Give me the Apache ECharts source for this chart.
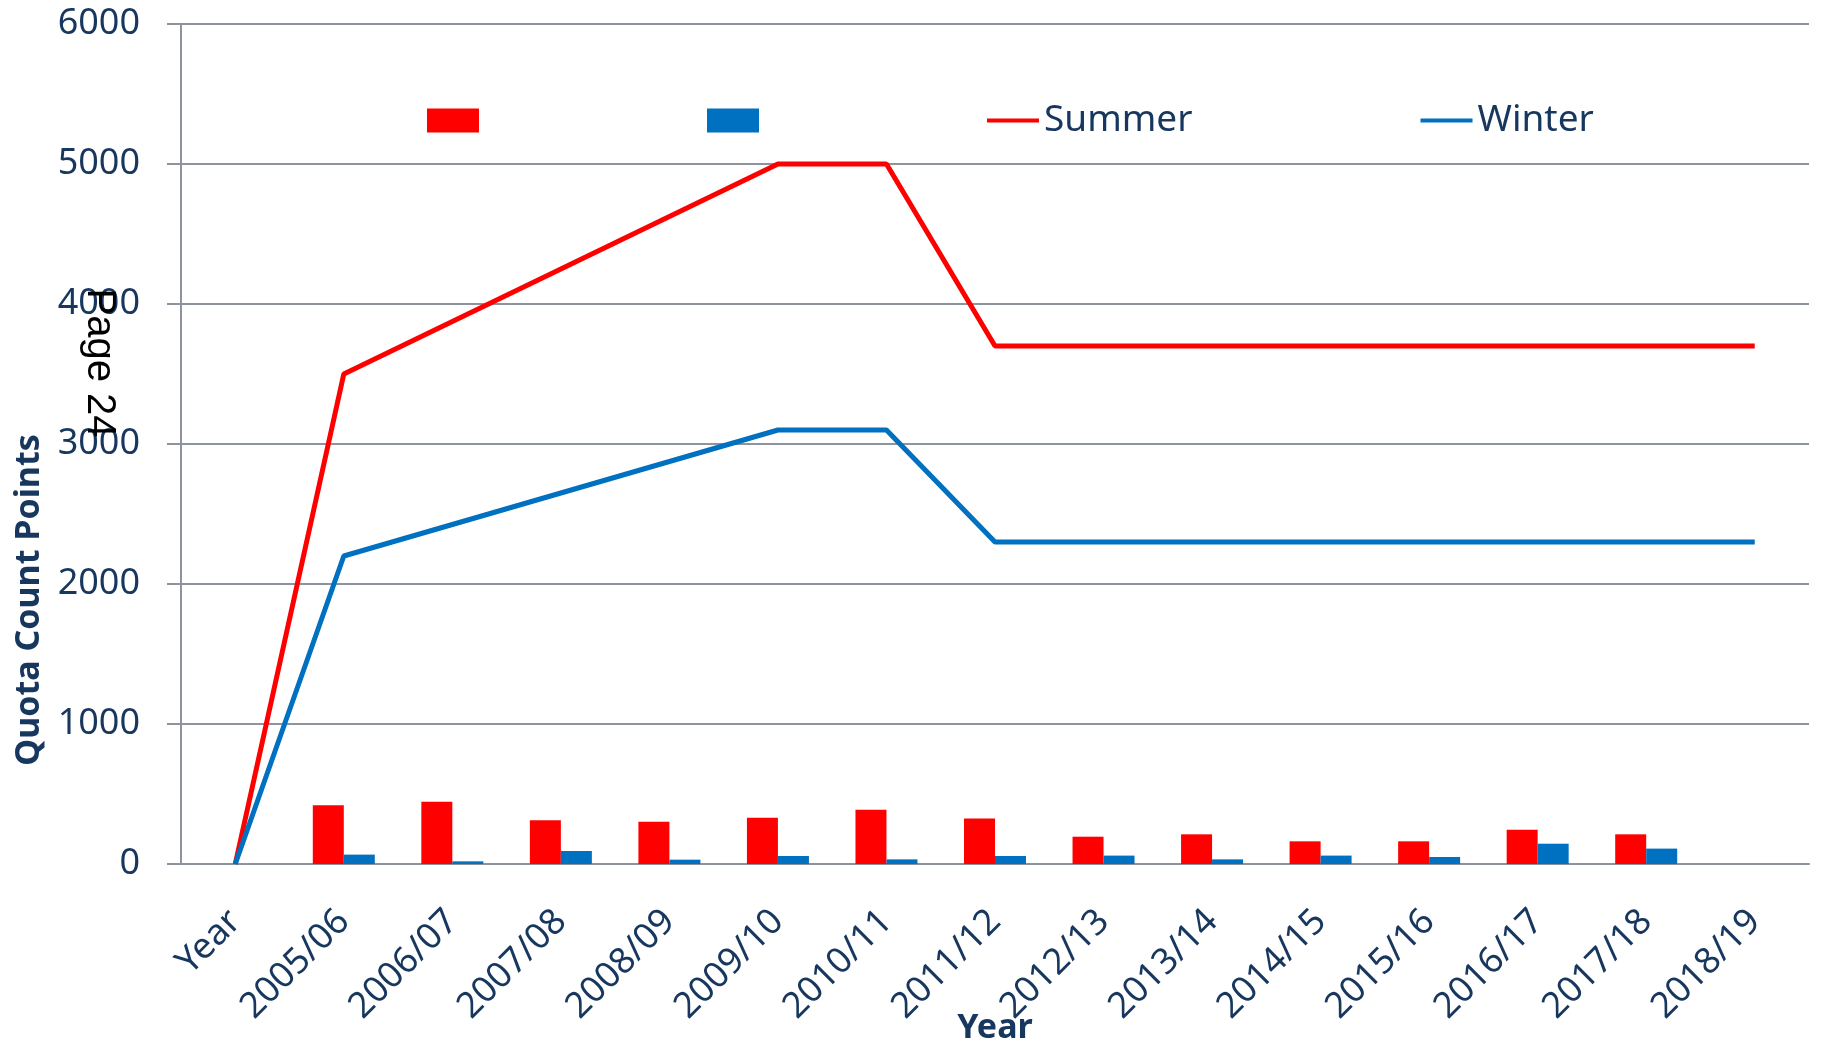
<!DOCTYPE html>
<html>
<head>
<meta charset="utf-8">
<title>Quota Count Points</title>
<script src="https://cdn.jsdelivr.net/npm/echarts@6/dist/echarts.min.js"></script>
<style>
  html, body { margin: 0; padding: 0; background: #fff; }
  #main { width: 1822px; height: 1045px; }
</style>
</head>
<body>
<div id="main"></div>
<script>
// categories on the x axis
const years = ['Year', '2005/06', '2006/07', '2007/08', '2008/09', '2009/10', '2010/11', '2011/12',
  '2012/13', '2013/14', '2014/15', '2015/16', '2016/17', '2017/18', '2018/19']

// quota lines (gaps are joined straight, as in the original)
const summerQuota = [0, 3500, null, null, null, 5000, 5000, 3700, 3700, 3700, 3700, 3700, 3700, 3700, 3700]
const winterQuota = [0, 2200, null, null, null, 3100, 3100, 2300, 2300, 2300, 2300, 2300, 2300, 2300, 2300]

// counts per season (bars)
const summerCount = [null, 420, 445, 312, 302, 330, 388, 325, 195, 212, 162, 162, 245, 212, null]
const winterCount = [null, 67, 19, 93, 31, 57, 33, 57, 60, 33, 60, 50, 145, 110, null]

const yTicks = { min: 0, max: 6000, interval: 1000 }

const red = '#FF0000'
const blue = '#0070C0'
const navy = '#17375E'
const grey = '#8E949E'
const font = 'Noto Sans'

// legend icon for the lines: a thin bar inside a 52x24 box
const lineIcon = 'path://M0,0 L0.01,0 M0,10 L52,10 L52,14 L0,14 Z M51.99,24 L52,24'

let myChart = echarts.init(document.getElementById('main'))

let option = {
  animation: false,
  textStyle: { fontFamily: font },
  grid: {
    left: 181,
    right: 13,
    top: 24,
    bottom: 181,
    containLabel: false,
    outerBoundsMode: 'none'
  },
  legend: {
    left: 422,
    top: 97,
    itemGap: 228,
    itemWidth: 52,
    itemHeight: 24,
    textStyle: { fontSize: 37, color: navy, fontFamily: font },
    formatter: function (name) {
      return name.indexOf('count') > -1 ? '' : name
    },
    data: [
      { name: 'Summer count', icon: 'rect' },
      { name: 'Winter count', icon: 'rect' },
      { name: 'Summer', icon: lineIcon },
      { name: 'Winter', icon: lineIcon }
    ]
  },
  xAxis: {
    type: 'category',
    data: years,
    name: 'Year',
    nameLocation: 'middle',
    nameGap: 147,
    nameMoveOverlap: false,
    nameTextStyle: { fontSize: 34, fontWeight: 'bold', color: navy, fontFamily: font },
    axisLine: { lineStyle: { color: grey, width: 2 } },
    axisTick: { length: 15, lineStyle: { color: grey, width: 2 } },
    axisLabel: {
      rotate: 45,
      margin: 52,
      interval: 0,
      fontSize: 36,
      color: navy,
      fontFamily: font
    }
  },
  yAxis: {
    type: 'value',
    min: yTicks.min,
    max: yTicks.max,
    interval: yTicks.interval,
    axisLine: { show: true, lineStyle: { color: grey, width: 2 } },
    axisTick: { show: true, length: 14, lineStyle: { color: grey, width: 2 } },
    axisLabel: {
      margin: 41,
      fontSize: 36,
      color: navy,
      fontFamily: font,
      formatter: function (v) { return String(v) }
    },
    splitLine: { lineStyle: { color: grey, width: 2 } }
  },
  graphic: [
    {
      // y axis title
      type: 'text',
      x: 29,
      y: 600,
      rotation: Math.PI / 2,
      style: {
        text: 'Quota Count Points',
        fontSize: 34,
        fontWeight: 'bold',
        fontFamily: font,
        fill: navy,
        align: 'center',
        verticalAlign: 'middle'
      }
    },
    {
      // page stamp
      type: 'text',
      x: 99,
      y: 363,
      rotation: -Math.PI / 2,
      z: 100,
      style: {
        text: 'Page 24',
        fontSize: 40,
        fontFamily: 'Liberation Sans',
        fill: '#000',
        align: 'center',
        verticalAlign: 'middle'
      }
    }
  ],
  series: [
    {
      name: 'Summer count',
      type: 'bar',
      barWidth: 31,
      barGap: '0%',
      itemStyle: { color: red },
      data: summerCount
    },
    {
      name: 'Winter count',
      type: 'bar',
      barWidth: 31,
      barGap: '0%',
      itemStyle: { color: blue },
      data: winterCount
    },
    {
      name: 'Summer',
      type: 'line',
      symbol: 'none',
      connectNulls: true,
      lineStyle: { color: red, width: 5 },
      itemStyle: { color: red },
      data: summerQuota
    },
    {
      name: 'Winter',
      type: 'line',
      symbol: 'none',
      connectNulls: true,
      lineStyle: { color: blue, width: 5 },
      itemStyle: { color: blue },
      data: winterQuota
    }
  ]
}

myChart.setOption(option)
</script>
</body>
</html>
